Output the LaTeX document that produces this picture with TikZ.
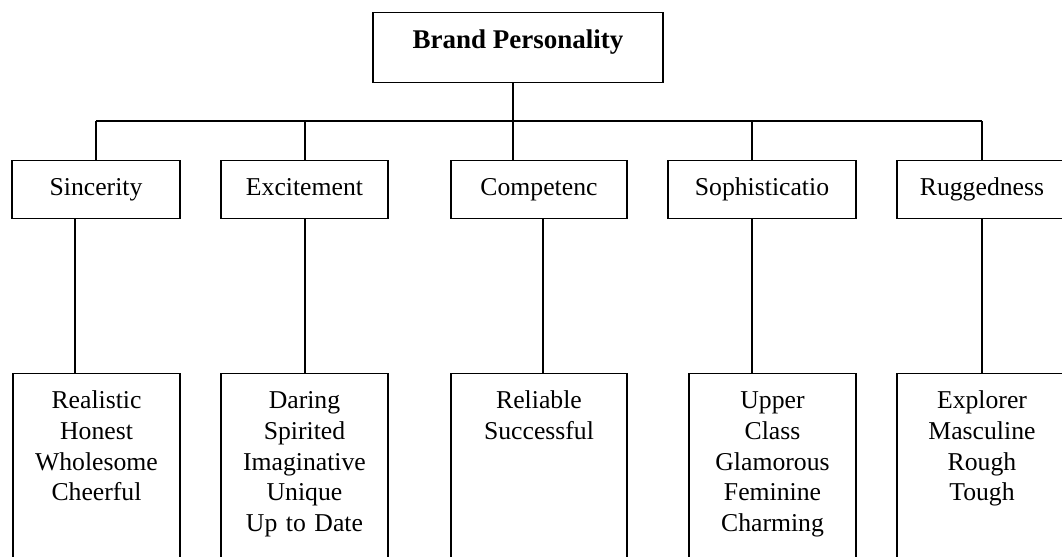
\documentclass[tikz,border=0pt]{standalone}
\usepackage{fontspec}
\setmainfont{Liberation Serif}
\usepackage{tikz}

\begin{document}
\begin{tikzpicture}[x=0.5pt,y=-0.5pt,line width=0.65pt,
  every node/.style={font=\fontsize{12.85}{15.35}\selectfont},
  headbox/.style={draw,inner xsep=0pt,inner ysep=0pt,minimum width=145pt,text height=18pt,text depth=17pt,font=\fontsize{13.5}{16}\selectfont\bfseries},
  dimbox/.style={draw,inner xsep=0pt,inner ysep=0pt,text height=17.5pt,text depth=11.5pt},
  facetbox/.style={draw,inner xsep=0pt,inner ysep=0pt,align=center,text height=17.5pt,text depth=120pt}]
\useasboundingbox (0,0) rectangle (1062,557);
\clip (0,0) rectangle (1062,557);
\node[headbox,anchor=north] (brand) at (518,12) {Brand Personality};
% the five dimensions
\foreach \i/\cx/\cw/\name in {1/96/84/Sincerity,2/304.5/83.5/Excitement,3/539/88/Competenc,4/762/94/Sophisticatio,5/982/85/Ruggedness}{\node[dimbox,anchor=north,minimum width=\cw pt] (dim\i) at (\cx,160) {\name};}
% traits under each dimension
\foreach \i/\cx/\cw/\items in {1/96.5/83.5/{Realistic\\Honest\\Wholesome\\Cheerful},2/304.5/83.5/{Daring\\Spirited\\Imaginative\\Unique\\Up to Date},3/539/88/{Reliable\\Successful},4/772.5/83.5/{Upper\\Class\\Glamorous\\Feminine\\Charming},5/982/85/{Explorer\\Masculine\\Rough\\Tough}}{\node[facetbox,anchor=north,text width=\cw pt] (facet\i) at (\cx,373) {\items};}
% tree lines
\foreach \i/\dx/\lx in {1/96/75,2/305/305,3/513/543,4/752/752,5/982/982}{
  \coordinate (drop\i) at (\dx,121);
  \coordinate (low\i) at (\lx,218);
  \draw (drop\i) -- (drop\i |- dim\i.north);
  \draw (low\i |- dim\i.south) -- (low\i |- facet\i.north);
}
\draw (drop1) -- (drop5);
\draw (brand.south -| drop3) -- (drop3);
\end{tikzpicture}
\end{document}
